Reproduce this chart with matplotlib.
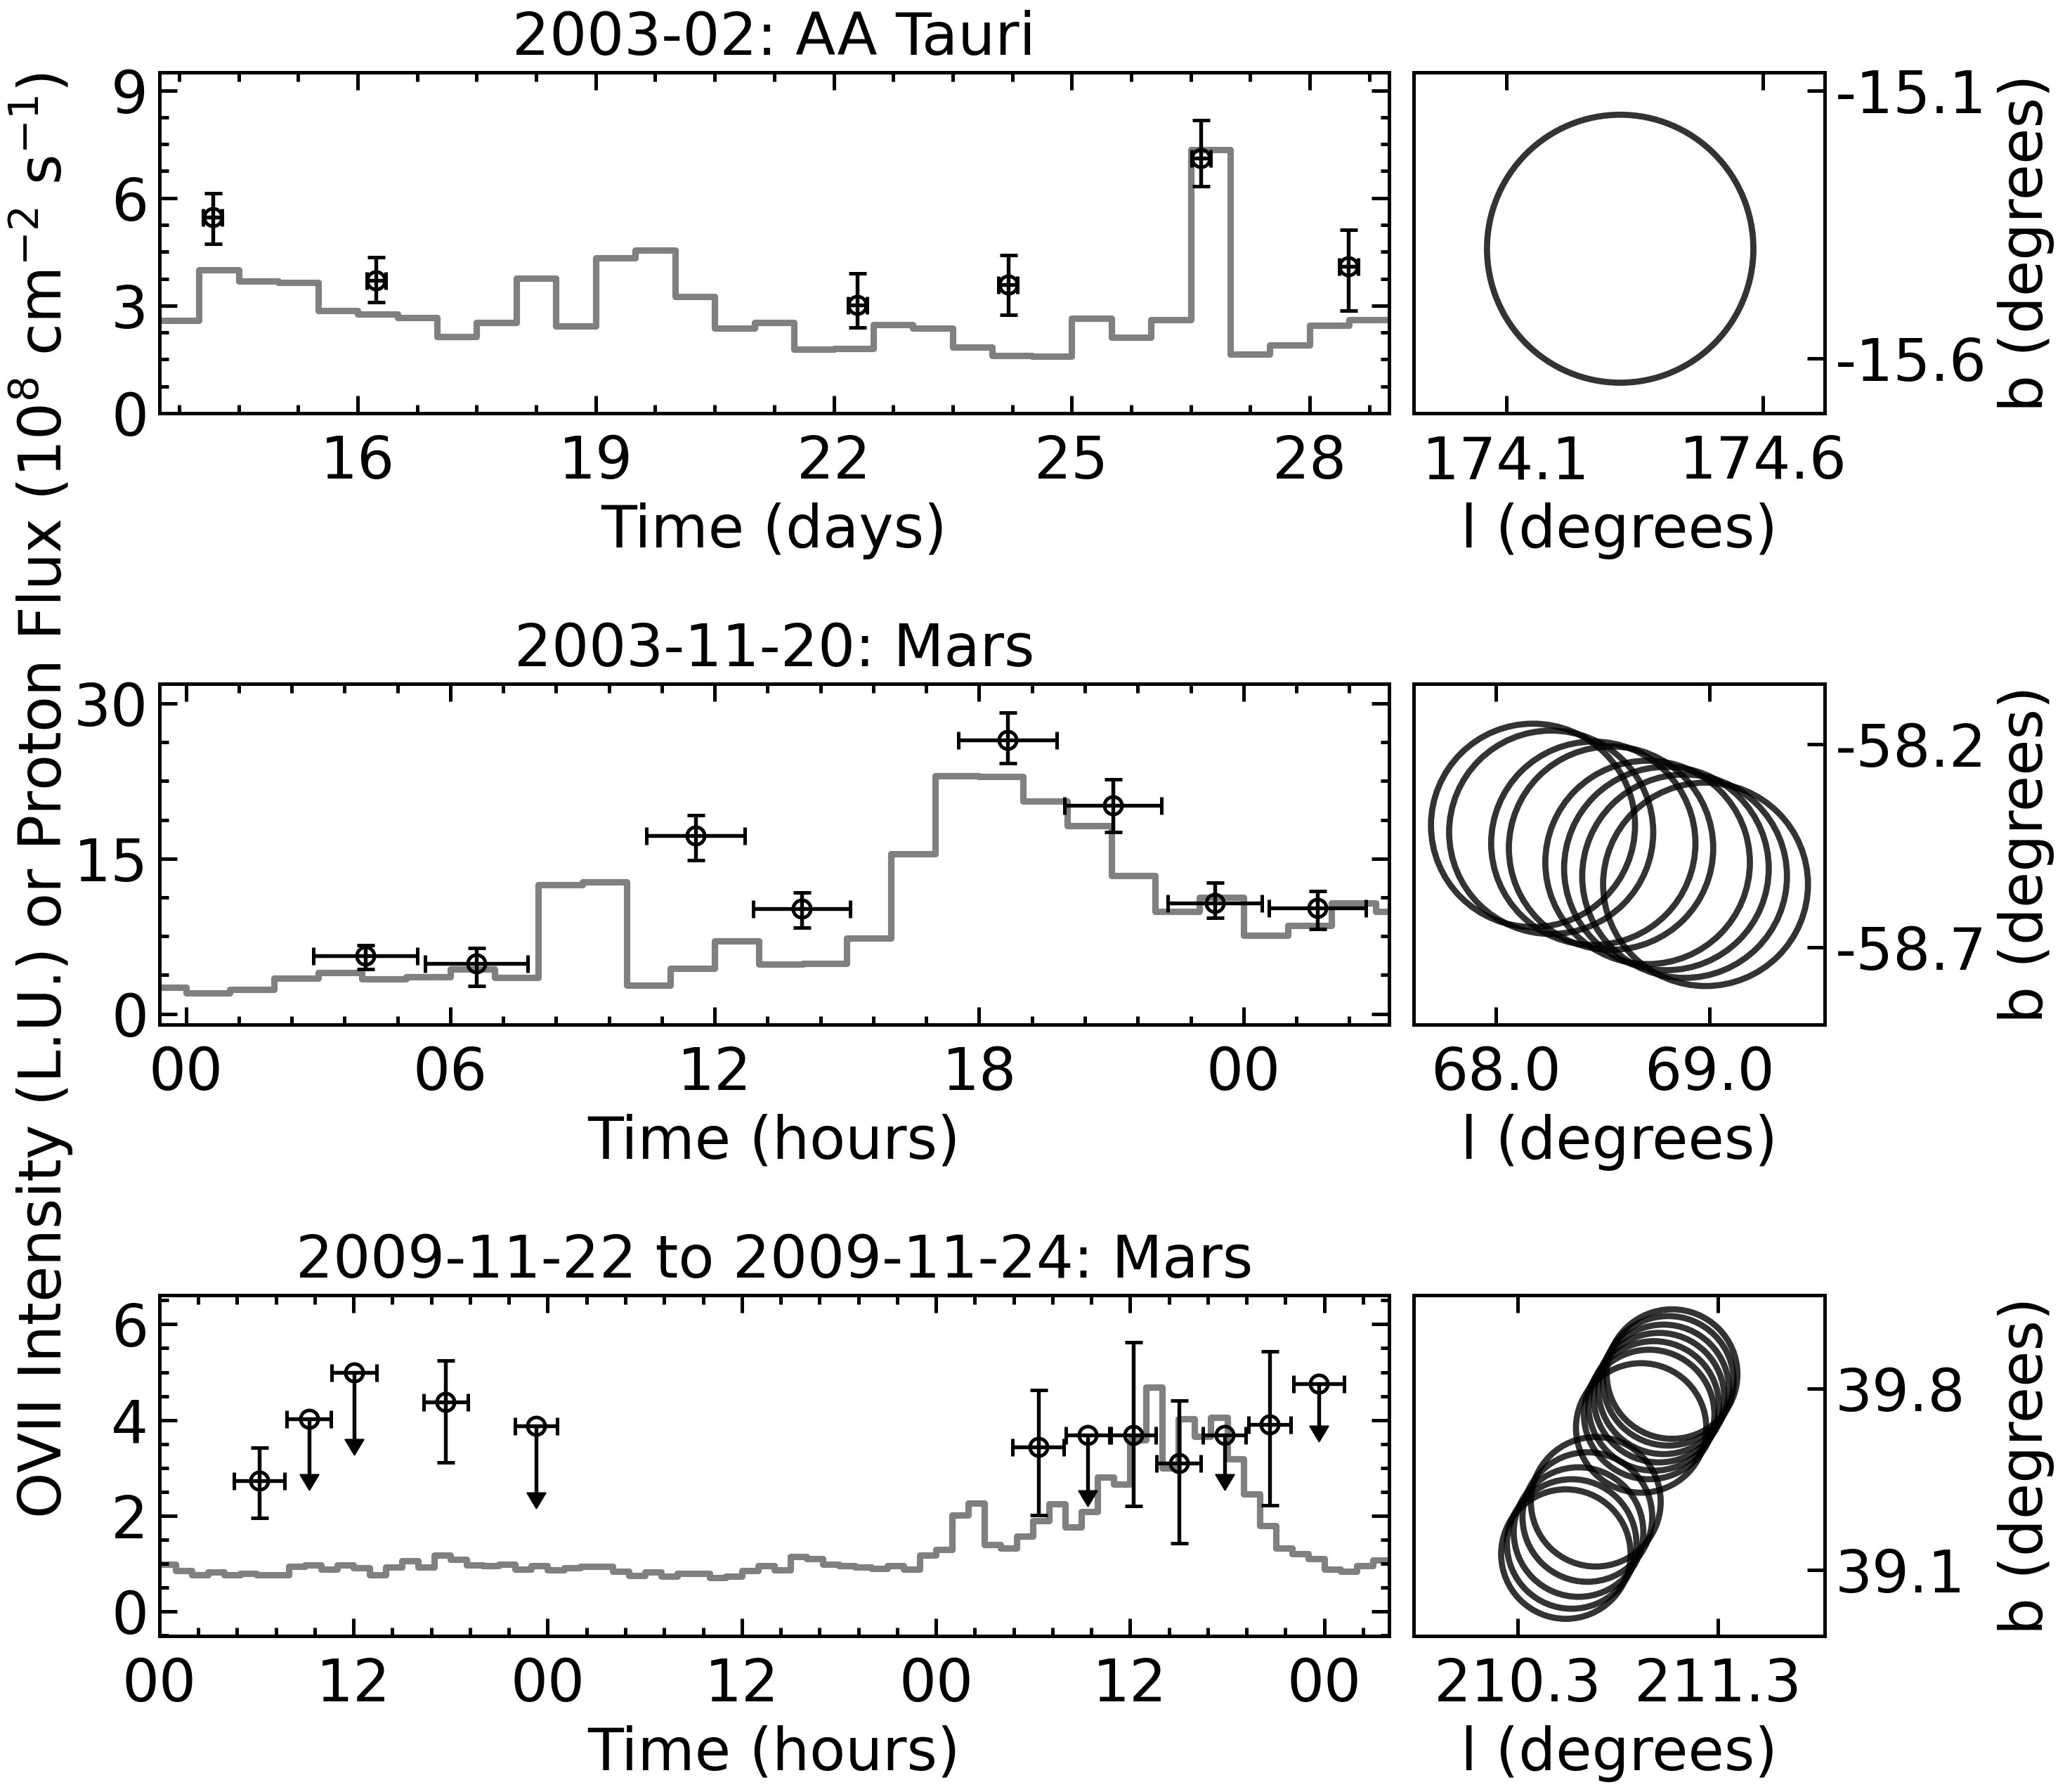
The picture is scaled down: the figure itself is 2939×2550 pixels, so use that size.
import numpy as np
import matplotlib
matplotlib.use("Agg")
import matplotlib.pyplot as plt
from matplotlib.patches import Ellipse
from matplotlib.path import Path
from matplotlib.ticker import AutoMinorLocator

plt.rcParams.update({
    "font.family": "DejaVu Sans",
    "font.size": 20,
    "axes.linewidth": 1.2,
    "axes.unicode_minus": False,
})

# ── Datos ───────────────────────────────────────────────────────────────────
# Panel 1 · 2003-02 AA Tauri (tiempo en días, bins de 0,5 d)
AAT_T0, AAT_DT = 13.5, 0.5
aat_proton = [2.59, 4.00, 3.68, 3.65, 2.87, 2.76, 2.67, 2.14, 2.52, 3.76,
              2.42, 4.33, 4.55, 3.25, 2.38, 2.52, 1.79, 1.81, 2.46, 2.38,
              1.84, 1.61, 1.59, 2.64, 2.11, 2.60, 7.34, 1.65, 1.91, 2.44,
              2.60]
aat_t = [14.17, 16.23, 22.30, 24.20, 26.63, 28.49]
aat_ovii = [5.47, 3.71, 3.02, 3.58, 7.12, 4.09]
aat_elo = [0.75, 0.62, 0.62, 0.83, 0.80, 1.22]
aat_ehi = [0.67, 0.64, 0.87, 0.83, 1.04, 1.03]
aat_terr = [0.12, 0.12, 0.12, 0.12, 0.12, 0.12]
aat_l = [174.322]
aat_b = [-15.395]

# Panel 2 · 2003-11-20 Marte (horas, bins de 1 h)
M03_T0, M03_DT = -1.0, 1.0
m03_proton = [2.54, 1.98, 2.34, 3.41, 3.98, 3.39, 3.56, 4.32, 3.53, 12.47,
              12.76, 2.77, 4.40, 7.06, 4.80, 4.88, 7.34, 15.47, 23.03, 22.95,
              20.55, 18.15, 13.35, 9.88, 11.23, 7.56, 8.55, 10.73, 9.88]
m03_t = [4.07, 6.59, 11.57, 13.97, 18.65, 21.03, 23.35, 25.67]
m03_ovii = [5.59, 4.88, 17.25, 10.16, 26.47, 20.12, 10.73, 10.25]
m03_elo = [1.27, 2.20, 2.40, 1.81, 2.25, 2.54, 1.47, 2.06]
m03_ehi = [1.04, 1.47, 1.94, 1.55, 2.66, 2.54, 1.97, 1.60]
m03_terr = [1.18, 1.16, 1.12, 1.10, 1.12, 1.10, 1.07, 1.10]
m03_l = [68.175, 68.260, 68.457, 68.540, 68.711, 68.799, 68.884, 68.982]
m03_b = [-58.400, -58.417, -58.444, -58.456, -58.491, -58.506, -58.525,
         -58.545]

# Panel 3 · 2009-11-22 a 2009-11-24 Marte (horas, bins de 1 h)
M09_T0, M09_DT = 0.0, 1.0
m09_proton = [0.98, 0.85, 0.76, 0.82, 0.77, 0.80, 0.77, 0.77, 0.94, 0.97,
              0.89, 0.97, 0.91, 0.76, 0.93, 1.06, 0.93, 1.18, 1.09, 0.97,
              0.95, 0.99, 0.89, 0.95,
              0.87, 0.91, 0.94, 0.94, 0.84, 0.75, 0.83, 0.73, 0.80, 0.80,
              0.71, 0.73, 0.85, 0.95, 0.87, 1.15, 1.10, 0.98, 0.96, 0.92,
              0.90, 0.95, 0.89, 1.17, 1.29, 2.01,
              2.27, 1.39, 1.32, 1.57, 1.90, 2.25, 1.76, 2.08, 2.80, 2.66,
              3.59, 4.68, 3.00, 4.02, 3.66, 4.06, 3.19, 2.46, 1.80, 1.32,
              1.20, 1.10, 0.89, 0.84, 0.95, 1.07]
# detecciones
m09_t = [6.17, 17.70, 54.32, 60.20, 63.01, 68.64]
m09_ovii = [2.73, 4.37, 3.44, 3.69, 3.10, 3.91]
m09_elo = [0.77, 1.26, 1.42, 1.49, 1.67, 1.69]
m09_ehi = [0.70, 0.87, 1.18, 1.93, 1.30, 1.52]
m09_terr = [1.58, 1.36, 1.57, 1.39, 1.37, 1.31]
# límites superiores (longitud de la flecha hasta la base de la punta)
m09u_t = [9.24, 12.03, 23.30, 57.38, 65.83, 71.67]
m09u_ovii = [4.02, 4.99, 3.88, 3.69, 3.69, 4.76]
m09u_len = [1.16, 1.39, 1.39, 1.16, 0.83, 0.88]
m09u_terr = [1.37, 1.38, 1.30, 1.34, 1.33, 1.56]
m09_l = [210.541, 210.570, 210.604, 210.648, 210.690,
         210.916, 210.956, 210.979, 211.005, 211.028, 211.051, 211.070]
m09_b = [39.161, 39.200, 39.246, 39.304, 39.363,
         39.648, 39.700, 39.733, 39.765, 39.797, 39.830, 39.856]

FOV_R = 0.25  # radio del campo (grados)

# Ejes y etiquetas
titles = ["2003-02: AA Tauri", "2003-11-20: Mars",
          "2009-11-22 to 2009-11-24: Mars"]
xlabels = ["Time (days)", "Time (hours)", "Time (hours)"]
aat_xticks = [16, 19, 22, 25, 28]
aat_xticklabels = ["16", "19", "22", "25", "28"]
m03_xticks = [0, 6, 12, 18, 24]
m03_xticklabels = ["00", "06", "12", "18", "00"]
m09_xticks = [0, 12, 24, 36, 48, 60, 72]
m09_xticklabels = ["00", "12", "00", "12", "00", "12", "00"]

# ── Figura ──────────────────────────────────────────────────────────────────
W, H = 2939, 2550
fig = plt.figure(figsize=(W / 300, H / 300), dpi=300)

MAIN_X, MAIN_W = 0.0772, 0.5954
SKY_X, SKY_W = 0.6846, 0.1990
PAN_H = 0.1902
ROWS = [0.7694, 0.4282, 0.0871]

ERR = dict(fmt="o", color="k", mfc="none", mec="k", ms=6, mew=1.2,
           elinewidth=1.3, capsize=3, capthick=1.3, zorder=3)
GREY = "#808080"
# punta de flecha rellena, con la base en el punto
ARROW = Path([(-0.6, 0.0), (0.6, 0.0), (0.0, -1.0), (-0.6, 0.0)],
             [Path.MOVETO, Path.LINETO, Path.LINETO, Path.CLOSEPOLY])


def steps(ax, t0, dt, vals):
    edges = t0 + dt * np.arange(len(vals) + 1)
    ax.step(edges, list(vals) + [vals[-1]], where="post", color=GREY,
            lw=2.2, zorder=1)


def style_main(ax, xlim, ylim, xt, xtl, yt, nx, ny, title, xlabel):
    ax.set_xlim(*xlim)
    ax.set_ylim(*ylim)
    ax.set_xticks(xt)
    ax.set_xticklabels(xtl)
    ax.set_yticks(yt)
    ax.xaxis.set_minor_locator(AutoMinorLocator(nx))
    ax.yaxis.set_minor_locator(AutoMinorLocator(ny))
    ax.tick_params(which="both", direction="in", top=True, right=True,
                   width=1.2)
    ax.tick_params(which="major", length=6)
    ax.tick_params(which="minor", length=3)
    ax.tick_params(axis="y", pad=3.8)
    ax.tick_params(axis="x", pad=7)
    ax.set_title(title, fontsize=20)
    ax.set_xlabel(xlabel)


def sky(ax, ls, bs, xlim, ylim, xt, yt, fmt):
    for l, b in zip(ls, bs):
        ax.add_patch(Ellipse((l, b), 2 * FOV_R / np.cos(np.radians(b)),
                             2 * FOV_R, fill=False, ec="k", alpha=0.8,
                             lw=2.1))
    ax.set_xlim(*xlim)
    ax.set_ylim(*ylim)
    ax.set_xticks(xt)
    ax.set_xticklabels([fmt % v for v in xt])
    ax.set_yticks(yt)
    ax.set_yticklabels([fmt % v for v in yt])
    ax.yaxis.tick_right()
    ax.yaxis.set_label_position("right")
    ax.tick_params(direction="in", top=True, bottom=True, left=False,
                   right=True, length=6, width=1.2)
    ax.tick_params(axis="x", pad=7)
    ax.set_xlabel("l (degrees)")
    ax.set_ylabel("b (degrees)")
    # todas las etiquetas "b" a la misma distancia del eje
    ax.yaxis.set_label_coords(1.42, 0.5)


# Panel 1
ax = fig.add_axes([MAIN_X, ROWS[0], MAIN_W, PAN_H])
steps(ax, AAT_T0, AAT_DT, aat_proton)
ax.errorbar(aat_t, aat_ovii, yerr=[aat_elo, aat_ehi], xerr=aat_terr, **ERR)
style_main(ax, (13.5, 29.0), (0, 9.5), aat_xticks, aat_xticklabels,
           [0, 3, 6, 9], 4, 4, titles[0], xlabels[0])
ax = fig.add_axes([SKY_X, ROWS[0], SKY_W, PAN_H])
sky(ax, aat_l, aat_b, (173.92, 174.72), (-15.702, -15.066),
    [174.1, 174.6], [-15.6, -15.1], "%.1f")

# Panel 2
ax = fig.add_axes([MAIN_X, ROWS[1], MAIN_W, PAN_H])
steps(ax, M03_T0, M03_DT, m03_proton)
ax.errorbar(m03_t, m03_ovii, yerr=[m03_elo, m03_ehi], xerr=m03_terr, **ERR)
style_main(ax, (-0.6, 27.3), (-1.05, 31.9), m03_xticks, m03_xticklabels,
           [0, 15, 30], 5, 4, titles[1], xlabels[1])
ax = fig.add_axes([SKY_X, ROWS[1], SKY_W, PAN_H])
sky(ax, m03_l, m03_b, (67.617, 69.539), (-58.890, -58.052),
    [68.0, 69.0], [-58.7, -58.2], "%.1f")

# Panel 3
ax = fig.add_axes([MAIN_X, ROWS[2], MAIN_W, PAN_H])
steps(ax, M09_T0, M09_DT, m09_proton)
ax.errorbar(m09_t, m09_ovii, yerr=[m09_elo, m09_ehi], xerr=m09_terr, **ERR)
ax.errorbar(m09u_t, m09u_ovii, xerr=m09u_terr, **ERR)
ax.errorbar(m09u_t, m09u_ovii, yerr=[m09u_len, [0] * len(m09u_len)],
            fmt="none", ecolor="k", elinewidth=1.3, capsize=0, zorder=3)
ax.plot(m09u_t, np.subtract(m09u_ovii, m09u_len), ls="none", marker=ARROW,
        ms=10.5, color="k", mec="k", mew=0.5, zorder=3)
style_main(ax, (0, 76), (-0.51, 6.61), m09_xticks, m09_xticklabels,
           [0, 2, 4, 6], 5, 4, titles[2], xlabels[2])
ax = fig.add_axes([SKY_X, ROWS[2], SKY_W, PAN_H])
sky(ax, m09_l, m09_b, (209.783, 211.83), (38.845, 40.161),
    [210.3, 211.3], [39.1, 39.8], "%.1f")

fig.text(0.0200, 0.556,
         "OVII Intensity (L.U.) or Proton Flux (10$^8$ cm$^{-2}$ s$^{-1}$)",
         rotation=90, ha="center", va="center", fontsize=20)

fig.savefig("out.png", dpi=300)
